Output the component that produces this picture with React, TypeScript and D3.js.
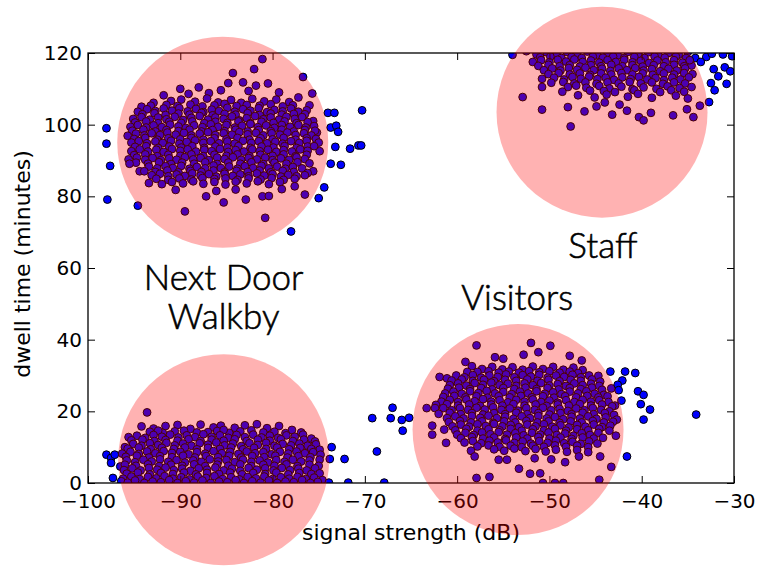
import { useLayoutEffect, useRef } from 'react'
import * as d3 from 'd3'

type Pt = [number, number]

// signal strength (dB), dwell time (minutes)
const walkbyTop: Pt[] = [
  [-81.1, 118.3], [-82.0, 115.5], [-84.3, 114.4], [-76.7, 113.3],
  [-84.8, 111.6], [-83.2, 111.8], [-80.5, 111.5], [-81.8, 110.9], [-88.0, 110.4], [-90.0, 110.0], [-85.6, 109.6],
  [-86.9, 108.8], [-82.6, 109.4], [-79.3, 109.0], [-75.7, 108.7], [-91.8, 108.2], [-89.1, 108.6],
  [-92.9, 106.1], [-91.0, 106.6], [-89.9, 107.0], [-88.4, 106.4], [-87.1, 107.3], [-85.9, 106.2], [-84.5, 106.9],
  [-83.4, 106.1], [-82.2, 107.2], [-80.9, 106.5], [-79.6, 107.0], [-78.2, 106.3], [-77.2, 107.6], [-94.2, 105.0], [-76.0, 105.4],
  [-93.2, 105.3], [-91.5, 105.5], [-90.3, 105.2], [-88.9, 105.6], [-87.6, 105.1], [-86.3, 105.4], [-85.2, 105.8],
  [-83.9, 105.2], [-82.8, 105.5], [-81.4, 105.3], [-80.2, 105.7], [-78.9, 105.1], [-77.8, 105.4],
  [-94.6, 103.6], [-93.6, 104.3], [-92.7, 103.8], [-91.8, 104.5], [-90.9, 103.9], [-90.1, 104.6], [-89.2, 103.7],
  [-88.3, 104.4], [-87.5, 103.5], [-86.6, 104.2], [-85.8, 103.8], [-84.9, 104.7], [-84.1, 103.6], [-83.2, 104.3],
  [-82.4, 103.9], [-81.5, 104.6], [-80.6, 103.5], [-79.8, 104.1], [-78.9, 103.7], [-78.0, 104.5], [-77.2, 103.6], [-76.3, 104.0],
  [-94.1, 102.9], [-92.8, 103.2], [-91.6, 102.7], [-90.2, 103.1], [-89.0, 102.8], [-87.7, 103.3], [-86.5, 102.6],
  [-85.2, 103.0], [-84.0, 102.8], [-82.7, 103.2], [-81.4, 102.7], [-80.2, 103.1], [-79.0, 102.8], [-77.7, 103.0], [-76.5, 102.9],
  [-95.1, 101.6], [-94.2, 102.1], [-93.3, 101.4], [-92.4, 102.0], [-91.5, 101.5], [-90.6, 102.2], [-89.7, 101.3],
  [-88.8, 101.9], [-87.9, 102.4], [-87.0, 101.4], [-86.2, 102.0], [-85.3, 101.6], [-84.4, 102.3], [-83.6, 101.2],
  [-82.8, 101.8], [-81.9, 102.4], [-81.0, 101.5], [-80.2, 102.0], [-79.3, 101.4], [-78.5, 102.2], [-77.6, 101.6],
  [-76.8, 102.1], [-75.6, 101.0],
  [-94.9, 100.6], [-93.7, 100.9], [-92.4, 100.4], [-91.2, 100.8], [-89.9, 100.5], [-88.7, 100.9], [-87.4, 100.4],
  [-86.2, 100.8], [-84.9, 100.5], [-83.7, 100.9], [-82.4, 100.4], [-81.2, 100.8], [-79.9, 100.5], [-78.7, 100.9],
  [-77.4, 100.4], [-76.2, 100.7],
  [-95.4, 99.4], [-94.6, 99.9], [-93.7, 99.2], [-92.9, 99.8], [-92.0, 99.3], [-91.1, 100.0], [-90.2, 99.5], [-89.4, 99.1],
  [-88.5, 99.8], [-87.6, 99.3], [-86.7, 100.1], [-85.9, 99.4], [-85.0, 99.9], [-84.1, 99.2], [-83.3, 99.7], [-82.4, 100.2],
  [-81.6, 99.3], [-80.7, 99.8], [-79.8, 99.1], [-79.0, 99.9], [-78.1, 99.4], [-77.2, 99.9], [-76.4, 99.2], [-75.2, 97.8], [-75.5, 99.6],
  [-95.2, 98.3], [-94.0, 98.6], [-92.7, 98.1], [-91.5, 98.5], [-90.2, 98.2], [-89.0, 98.6], [-87.7, 98.1], [-86.5, 98.5],
  [-85.2, 98.2], [-84.0, 98.6], [-82.7, 98.1], [-81.5, 98.5], [-80.2, 98.2], [-79.0, 98.6], [-77.7, 98.1], [-76.5, 98.5], [-75.4, 98.3],
  [-95.7, 96.9], [-94.8, 97.5], [-93.9, 97.0], [-93.1, 97.6], [-92.2, 97.1], [-91.4, 97.8], [-90.5, 97.2], [-89.6, 97.7],
  [-88.8, 97.0], [-87.9, 97.5], [-87.0, 97.9], [-86.2, 97.1], [-85.3, 97.6], [-84.4, 97.2], [-83.6, 97.9], [-82.7, 97.3],
  [-81.8, 97.7], [-81.0, 97.0], [-80.1, 97.6], [-79.2, 97.2], [-78.4, 97.8], [-77.5, 97.1], [-76.6, 97.6], [-75.8, 97.0],
  [-95.0, 96.0], [-93.8, 96.3], [-92.5, 95.8], [-91.3, 96.2], [-90.0, 95.9], [-88.8, 96.3], [-87.5, 95.8], [-86.3, 96.2],
  [-85.0, 95.9], [-83.8, 96.3], [-82.5, 95.8], [-81.3, 96.2], [-80.0, 95.9], [-78.8, 96.3], [-77.5, 95.8], [-76.3, 96.2], [-75.3, 96.0],
  [-95.3, 95.0], [-94.5, 95.4], [-93.6, 94.8], [-92.7, 95.3], [-91.9, 94.9], [-91.0, 95.5], [-90.1, 94.7], [-89.3, 95.2],
  [-88.4, 95.6], [-87.5, 94.9], [-86.7, 95.4], [-85.8, 94.8], [-84.9, 95.3], [-84.1, 94.7], [-83.2, 95.5], [-82.3, 94.9],
  [-81.5, 95.4], [-80.6, 94.8], [-79.7, 95.2], [-78.9, 94.7], [-78.0, 95.4], [-77.1, 94.9], [-76.3, 95.5], [-75.0, 95.0], [-74.9, 92.6],
  [-94.9, 93.8], [-93.7, 94.0], [-92.4, 93.5], [-91.2, 93.9], [-89.9, 93.6], [-88.7, 94.0], [-87.4, 93.5], [-86.2, 93.9],
  [-84.9, 93.6], [-83.7, 94.0], [-82.4, 93.5], [-81.2, 93.9], [-79.9, 93.6], [-78.7, 94.0], [-77.4, 93.5], [-76.2, 93.9], [-75.5, 94.0],
  [-95.3, 92.6], [-94.4, 93.1], [-93.5, 92.5], [-92.6, 93.0], [-91.8, 92.4], [-90.9, 93.2], [-90.0, 92.7], [-89.2, 93.1],
  [-88.3, 92.5], [-87.4, 93.0], [-86.6, 92.6], [-85.7, 93.2], [-84.8, 92.4], [-84.0, 92.9], [-83.1, 92.5], [-82.2, 93.1],
  [-81.4, 92.6], [-80.5, 93.0], [-79.6, 92.4], [-78.8, 92.9], [-77.9, 92.5], [-77.0, 93.1], [-76.2, 92.7],
  [-95.0, 91.5], [-93.8, 91.7], [-92.5, 91.2], [-91.3, 91.6], [-90.0, 91.3], [-88.8, 91.7], [-87.5, 91.2], [-86.3, 91.6],
  [-85.0, 91.3], [-83.8, 91.7], [-82.5, 91.2], [-81.3, 91.6], [-80.0, 91.3], [-78.8, 91.7], [-77.5, 91.2], [-76.3, 91.6],
  [-95.6, 90.3], [-94.7, 90.8], [-93.8, 90.2], [-93.0, 90.7], [-92.1, 90.1], [-91.2, 90.6], [-90.4, 90.2], [-89.5, 90.9],
  [-88.6, 90.3], [-87.8, 90.7], [-86.9, 90.1], [-86.0, 90.8], [-85.2, 90.4], [-84.3, 90.9], [-83.4, 90.2], [-82.6, 90.7],
  [-81.7, 90.3], [-80.8, 90.8], [-80.0, 90.1], [-79.1, 90.6], [-78.2, 90.2], [-77.4, 90.9], [-76.5, 90.4],
  [-94.8, 89.4], [-93.5, 89.1], [-92.3, 89.5], [-91.0, 89.0], [-89.8, 89.4], [-88.5, 89.1], [-87.3, 89.5], [-86.0, 89.0],
  [-84.8, 89.4], [-83.5, 89.1], [-82.3, 89.5], [-81.0, 89.0], [-79.8, 89.4], [-78.5, 89.1], [-77.3, 89.5], [-76.0, 89.2],
  [-95.5, 89.1], [-94.4, 87.0], [-93.4, 88.3], [-92.5, 87.8], [-91.6, 88.4], [-90.8, 87.9], [-89.9, 88.5], [-89.0, 87.7],
  [-88.2, 88.2], [-87.3, 87.8], [-86.4, 88.6], [-85.6, 87.9], [-84.7, 88.3], [-83.8, 87.7], [-83.0, 88.4], [-82.1, 87.9],
  [-81.2, 88.5], [-80.4, 87.8], [-79.5, 88.3], [-78.6, 87.7], [-77.8, 88.2], [-76.8, 87.8], [-75.6, 87.0],
  [-93.9, 87.0], [-92.7, 86.8], [-91.4, 87.2], [-90.2, 86.7], [-88.9, 87.1], [-87.7, 86.8], [-86.4, 87.2], [-85.2, 86.7],
  [-83.9, 87.1], [-82.7, 86.8], [-81.4, 87.2], [-80.2, 86.7], [-78.9, 87.1], [-77.7, 86.8], [-76.2, 86.5],
  [-93.1, 85.9], [-92.2, 86.3], [-91.3, 85.6], [-90.4, 86.1], [-89.5, 85.7], [-88.7, 86.4], [-87.8, 85.8], [-86.9, 86.2],
  [-86.1, 85.5], [-85.2, 86.3], [-84.3, 85.7], [-83.5, 86.1], [-82.6, 85.6], [-81.7, 86.4], [-80.9, 85.8], [-80.0, 86.2],
  [-79.1, 85.5], [-78.3, 86.0], [-77.4, 85.6], [-76.5, 85.9],
  [-92.6, 84.9], [-91.3, 84.6], [-90.1, 85.0], [-88.8, 84.7], [-87.6, 85.1], [-86.3, 84.8], [-85.1, 85.0], [-83.8, 84.6],
  [-82.6, 85.0], [-81.3, 84.7], [-80.1, 85.1], [-78.8, 84.6], [-77.6, 84.9],
  [-93.4, 83.7], [-92.0, 83.4], [-90.9, 84.0], [-89.7, 83.6], [-88.6, 84.2], [-87.5, 83.5], [-86.3, 84.0], [-85.1, 83.3],
  [-84.0, 84.1], [-82.8, 83.6], [-81.6, 84.2], [-80.4, 83.4], [-79.2, 84.0], [-77.6, 82.8],
  [-90.5, 81.8], [-87.2, 80.0], [-85.3, 78.3], [-82.9, 79.1], [-81.1, 80.0], [-80.4, 80.1], [-76.5, 80.5], [-89.5, 75.8],
  [-80.8, 74.0], [-86.1, 81.5], [-84.0, 81.9], [-79.0, 82.0]
]

const walkbyBottom: Pt[] = [
  [-93.6, 19.7],
  [-94.2, 15.8], [-92.9, 15.2], [-91.6, 15.9], [-90.3, 16.2], [-88.9, 15.1], [-87.8, 16.3], [-86.4, 15.5], [-85.6, 16.0],
  [-84.1, 15.4], [-83.0, 16.1], [-81.7, 16.4], [-80.6, 15.3], [-79.3, 15.9], [-77.9, 14.8], [-89.6, 14.6], [-82.3, 14.7], [-87.0, 14.2],
  [-93.3, 14.3], [-91.9, 14.0], [-90.6, 14.4], [-88.2, 14.1], [-86.0, 14.5], [-84.7, 14.0], [-83.5, 14.4], [-81.0, 14.1],
  [-79.8, 14.3], [-78.6, 13.9], [-76.9, 14.1], [-92.4, 14.6], [-85.3, 14.8],
  [-95.6, 12.8], [-94.7, 13.2], [-93.8, 12.6], [-92.9, 13.4], [-92.0, 12.9], [-91.1, 13.5], [-90.2, 12.7], [-89.3, 13.3],
  [-88.4, 12.8], [-87.5, 13.6], [-86.6, 12.9], [-85.7, 13.3], [-84.8, 12.6], [-83.9, 13.4], [-83.0, 12.8], [-82.1, 13.5],
  [-81.2, 12.7], [-80.3, 13.2], [-79.4, 12.6], [-78.5, 13.3], [-77.6, 12.9], [-76.7, 13.5], [-75.8, 12.4],
  [-95.3, 11.9], [-94.1, 12.1], [-92.8, 11.7], [-91.6, 12.0], [-90.3, 11.8], [-89.1, 12.2], [-87.8, 11.7], [-86.6, 12.1],
  [-85.3, 11.8], [-84.1, 12.2], [-82.8, 11.7], [-81.6, 12.1], [-80.3, 11.8], [-79.1, 12.2], [-77.8, 11.7], [-76.6, 12.1], [-75.4, 11.6],
  [-96.0, 10.0], [-95.1, 10.9], [-94.2, 10.4], [-93.3, 11.1], [-92.4, 10.6], [-91.5, 11.2], [-90.6, 10.5], [-89.7, 11.0],
  [-88.8, 10.4], [-87.9, 11.1], [-87.0, 10.7], [-86.1, 11.3], [-85.2, 10.5], [-84.3, 11.0], [-83.4, 10.3], [-82.5, 11.1],
  [-81.6, 10.6], [-80.7, 11.2], [-79.8, 10.4], [-78.9, 10.9], [-78.0, 10.5], [-77.1, 11.0], [-76.2, 10.4], [-75.3, 10.8],
  [-95.7, 9.6], [-94.5, 9.9], [-93.2, 9.4], [-92.0, 9.8], [-90.7, 9.5], [-89.5, 9.9], [-88.2, 9.4], [-87.0, 9.8],
  [-85.7, 9.5], [-84.5, 9.9], [-83.2, 9.4], [-82.0, 9.8], [-80.7, 9.5], [-79.5, 9.9], [-78.2, 9.4], [-77.0, 9.8], [-75.8, 9.5], [-74.9, 9.3],
  [-96.3, 8.2], [-95.4, 8.7], [-94.5, 8.1], [-93.6, 8.8], [-92.7, 8.3], [-91.8, 8.9], [-90.9, 8.4], [-90.0, 8.7],
  [-89.1, 8.0], [-88.2, 8.6], [-87.3, 8.2], [-86.4, 8.9], [-85.5, 8.3], [-84.6, 8.7], [-83.7, 8.1], [-82.8, 8.8],
  [-81.9, 8.3], [-81.0, 8.6], [-80.1, 8.0], [-79.2, 8.7], [-78.3, 8.2], [-77.4, 8.8], [-76.5, 8.3], [-75.6, 8.6], [-74.8, 7.9],
  [-95.9, 7.3], [-94.7, 7.6], [-93.4, 7.1], [-92.2, 7.5], [-90.9, 7.2], [-89.7, 7.6], [-88.4, 7.1], [-87.2, 7.5],
  [-85.9, 7.2], [-84.7, 7.6], [-83.4, 7.1], [-82.2, 7.5], [-80.9, 7.2], [-79.7, 7.6], [-78.4, 7.1], [-77.2, 7.5], [-75.9, 7.2],
  [-96.5, 4.6], [-95.8, 6.3], [-94.9, 5.8], [-94.0, 6.5], [-93.1, 6.0], [-92.2, 6.6], [-91.3, 5.9], [-90.4, 6.4],
  [-89.5, 5.7], [-88.6, 6.3], [-87.7, 5.9], [-86.8, 6.6], [-85.9, 6.0], [-85.0, 6.4], [-84.1, 5.8], [-83.2, 6.5],
  [-82.3, 5.9], [-81.4, 6.3], [-80.5, 5.7], [-79.6, 6.4], [-78.7, 5.9], [-77.8, 6.5], [-76.9, 6.0], [-76.0, 6.3], [-74.9, 6.5],
  [-96.0, 5.1], [-94.8, 4.8], [-93.5, 5.2], [-92.3, 4.7], [-91.0, 5.1], [-89.8, 4.8], [-88.5, 5.2], [-87.3, 4.7],
  [-86.0, 5.1], [-84.8, 4.8], [-83.5, 5.2], [-82.3, 4.7], [-81.0, 5.1], [-79.8, 4.8], [-78.5, 5.2], [-77.3, 4.7], [-76.0, 5.1], [-75.0, 4.8],
  [-96.1, 3.6], [-95.2, 4.1], [-94.3, 3.5], [-93.4, 4.2], [-92.5, 3.7], [-91.6, 4.3], [-90.7, 3.6], [-89.8, 4.0],
  [-88.9, 3.4], [-88.0, 4.1], [-87.1, 3.7], [-86.2, 4.3], [-85.3, 3.5], [-84.4, 4.0], [-83.5, 3.4], [-82.6, 4.2],
  [-81.7, 3.7], [-80.8, 4.1], [-79.9, 3.5], [-79.0, 4.2], [-78.1, 3.6], [-77.2, 4.0], [-76.3, 3.5], [-75.4, 4.1],
  [-95.8, 2.6], [-94.6, 2.9], [-93.3, 2.4], [-92.1, 2.8], [-90.8, 2.5], [-89.6, 2.9], [-88.3, 2.4], [-87.1, 2.8],
  [-85.8, 2.5], [-84.6, 2.9], [-83.3, 2.4], [-82.1, 2.8], [-80.8, 2.5], [-79.6, 2.9], [-78.3, 2.4], [-77.1, 2.8], [-75.8, 2.5], [-74.9, 2.7],
  [-96.2, 1.2], [-95.3, 1.8], [-94.4, 1.1], [-93.5, 1.7], [-92.6, 1.3], [-91.7, 1.9], [-90.8, 1.2], [-89.9, 1.6],
  [-89.0, 1.0], [-88.1, 1.8], [-87.2, 1.4], [-86.3, 1.9], [-85.4, 1.1], [-84.5, 1.6], [-83.6, 1.0], [-82.7, 1.7],
  [-81.8, 1.3], [-80.9, 1.8], [-80.0, 1.1], [-79.1, 1.6], [-78.2, 1.2], [-77.3, 1.7], [-76.4, 1.1], [-75.5, 1.5], [-74.6, 0.8],
  [-96.4, 0.5], [-94.9, 0.7], [-93.0, 0.4], [-91.2, 0.8], [-89.4, 0.5], [-87.6, 0.7], [-85.8, 0.4], [-84.0, 0.8],
  [-82.2, 0.5], [-80.4, 0.7], [-78.6, 0.4], [-76.8, 0.8], [-75.1, 0.3],
  [-95.7, 0.1], [-93.9, 0.0], [-92.1, 0.2], [-90.3, 0.0], [-88.5, 0.1], [-86.7, 0.0], [-84.9, 0.2], [-83.1, 0.0],
  [-81.3, 0.1], [-79.5, 0.0], [-77.7, 0.2], [-75.9, 0.0]
]

const visitors: Pt[] = [
  [-52.0, 39.1], [-57.9, 38.4], [-49.9, 38.3], [-51.2, 36.5], [-52.8, 35.8], [-55.9, 35.1], [-55.0, 34.7], [-47.8, 35.5],
  [-59.1, 33.8], [-46.5, 34.2],
  [-58.4, 32.6], [-57.3, 31.8], [-56.2, 32.4], [-55.1, 31.7], [-54.0, 32.3], [-52.9, 31.6], [-51.8, 32.5], [-50.7, 31.8],
  [-49.6, 32.4], [-48.5, 31.6], [-47.4, 32.2], [-46.4, 31.5], [-58.9, 31.0],
  [-57.8, 31.0], [-56.6, 31.2], [-55.5, 30.8], [-54.4, 31.1], [-53.3, 30.8], [-52.2, 31.2], [-51.1, 30.9], [-50.0, 31.2],
  [-48.9, 30.8], [-47.8, 31.1], [-46.9, 30.7],
  [-61.9, 29.6], [-61.1, 29.2], [-60.1, 30.0], [-59.2, 29.5], [-58.3, 30.1], [-57.4, 29.4], [-56.5, 30.0], [-55.6, 29.6],
  [-54.7, 30.3], [-53.8, 29.5], [-52.9, 30.1], [-52.0, 29.7], [-51.1, 30.2], [-50.2, 29.4], [-49.3, 30.0], [-48.4, 29.6],
  [-47.5, 30.2], [-46.6, 29.5], [-45.7, 30.0], [-44.7, 29.9],
  [-60.6, 28.6], [-59.5, 28.9], [-58.3, 28.5], [-57.1, 28.8], [-56.0, 28.4], [-54.8, 28.8], [-53.6, 28.5], [-52.4, 28.9],
  [-51.3, 28.5], [-50.1, 28.8], [-48.9, 28.4], [-47.7, 28.8], [-46.6, 28.5], [-45.4, 28.9], [-44.5, 28.3],
  [-60.8, 27.3], [-59.9, 27.8], [-59.0, 27.2], [-58.1, 27.9], [-57.2, 27.4], [-56.3, 28.0], [-55.4, 27.3], [-54.5, 27.7],
  [-53.6, 27.1], [-52.7, 27.8], [-51.8, 27.3], [-50.9, 27.9], [-50.0, 27.2], [-49.1, 27.6], [-48.2, 27.1], [-47.3, 27.8],
  [-46.4, 27.3], [-45.5, 27.7], [-44.6, 27.1],
  [-61.0, 26.3], [-59.8, 26.6], [-58.6, 26.2], [-57.4, 26.5], [-56.2, 26.1], [-55.0, 26.5], [-53.8, 26.2], [-52.6, 26.6],
  [-51.4, 26.2], [-50.2, 26.5], [-49.0, 26.1], [-47.8, 26.5], [-46.6, 26.2], [-45.4, 26.6], [-44.3, 26.0],
  [-61.3, 25.0], [-60.4, 25.5], [-59.5, 24.9], [-58.6, 25.6], [-57.7, 25.1], [-56.8, 25.7], [-55.9, 25.0], [-55.0, 25.4],
  [-54.1, 24.8], [-53.2, 25.5], [-52.3, 25.0], [-51.4, 25.6], [-50.5, 24.9], [-49.6, 25.3], [-48.7, 24.8], [-47.8, 25.5],
  [-46.9, 25.0], [-46.0, 25.6], [-45.1, 24.9], [-44.1, 24.6], [-43.3, 26.4],
  [-61.5, 24.0], [-60.3, 24.3], [-59.1, 23.9], [-57.9, 24.2], [-56.7, 23.8], [-55.5, 24.2], [-54.3, 23.9], [-53.1, 24.3],
  [-51.9, 23.9], [-50.7, 24.2], [-49.5, 23.8], [-48.3, 24.2], [-47.1, 23.9], [-45.9, 24.3], [-44.7, 23.9], [-43.7, 24.2],
  [-61.7, 22.7], [-60.8, 23.2], [-59.9, 22.6], [-59.0, 23.3], [-58.1, 22.8], [-57.2, 23.4], [-56.3, 22.7], [-55.4, 23.1],
  [-54.5, 22.5], [-53.6, 23.2], [-52.7, 22.7], [-51.8, 23.3], [-50.9, 22.6], [-50.0, 23.0], [-49.1, 22.4], [-48.2, 23.1],
  [-47.3, 22.6], [-46.4, 23.2], [-45.5, 22.7], [-44.6, 23.1], [-43.6, 22.6], [-42.9, 21.6],
  [-62.3, 21.8], [-61.1, 22.0], [-59.9, 21.6], [-58.7, 21.9], [-57.5, 21.5], [-56.3, 21.9], [-55.1, 21.6], [-53.9, 22.0],
  [-52.7, 21.6], [-51.5, 21.9], [-50.3, 21.5], [-49.1, 21.9], [-47.9, 21.6], [-46.7, 22.0], [-45.5, 21.6], [-44.3, 21.9], [-43.2, 21.4],
  [-63.3, 20.9], [-62.4, 20.9], [-61.5, 20.9], [-60.6, 20.3], [-59.7, 20.9], [-58.8, 20.4], [-57.9, 21.0], [-57.0, 20.5],
  [-56.1, 21.1], [-55.2, 20.4], [-54.3, 20.8], [-53.4, 20.2], [-52.5, 20.9], [-51.6, 20.4], [-50.7, 21.0], [-49.8, 20.3],
  [-48.9, 20.7], [-48.0, 20.1], [-47.1, 20.8], [-46.2, 20.3], [-45.3, 20.9], [-44.4, 20.4], [-43.5, 20.0],
  [-62.0, 19.3], [-60.8, 19.6], [-59.6, 19.2], [-58.4, 19.5], [-57.2, 19.1], [-56.0, 19.5], [-54.8, 19.2], [-53.6, 19.6],
  [-52.4, 19.2], [-51.2, 19.5], [-50.0, 19.1], [-48.8, 19.5], [-47.6, 19.2], [-46.4, 19.6], [-45.2, 19.2], [-44.0, 19.5], [-43.0, 19.0],
  [-61.1, 18.1], [-60.2, 18.6], [-59.3, 18.0], [-58.4, 18.7], [-57.5, 18.2], [-56.6, 18.8], [-55.7, 18.1], [-54.8, 18.5],
  [-53.9, 17.9], [-53.0, 18.6], [-52.1, 18.1], [-51.2, 18.7], [-50.3, 18.0], [-49.4, 18.4], [-48.5, 17.8], [-47.6, 18.5],
  [-46.7, 18.0], [-45.8, 18.6], [-44.9, 17.9], [-43.9, 18.3], [-42.7, 17.7],
  [-60.9, 17.0], [-59.7, 17.3], [-58.5, 16.9], [-57.3, 17.2], [-56.1, 16.8], [-54.9, 17.2], [-53.7, 16.9], [-52.5, 17.3],
  [-51.3, 16.9], [-50.1, 17.2], [-48.9, 16.8], [-47.7, 17.2], [-46.5, 16.9], [-45.3, 17.3], [-44.1, 16.9], [-43.1, 17.1],
  [-62.7, 16.0], [-60.5, 15.8], [-59.6, 16.3], [-58.7, 15.7], [-57.8, 16.4], [-56.9, 15.9], [-56.0, 16.5], [-55.1, 15.8],
  [-54.2, 16.2], [-53.3, 15.6], [-52.4, 16.3], [-51.5, 15.8], [-50.6, 16.4], [-49.7, 15.7], [-48.8, 16.1], [-47.9, 15.5],
  [-47.0, 16.2], [-46.1, 15.7], [-45.2, 16.3], [-44.3, 15.6], [-43.4, 16.0],
  [-61.4, 14.9], [-60.2, 14.7], [-59.0, 15.1], [-57.8, 14.6], [-56.6, 15.0], [-55.4, 14.7], [-54.2, 15.1], [-53.0, 14.6],
  [-51.8, 15.0], [-50.6, 14.7], [-49.4, 15.1], [-48.2, 14.6], [-47.0, 15.0], [-45.8, 14.7], [-44.6, 15.1], [-43.5, 14.6],
  [-62.7, 13.5], [-60.0, 13.5], [-59.1, 14.0], [-58.2, 13.4], [-57.3, 14.1], [-56.4, 13.6], [-55.5, 14.2], [-54.6, 13.5],
  [-53.7, 13.9], [-52.8, 13.3], [-51.9, 14.0], [-51.0, 13.5], [-50.1, 14.1], [-49.2, 13.4], [-48.3, 13.8], [-47.4, 13.2],
  [-46.5, 13.9], [-45.6, 13.4], [-44.7, 14.0], [-42.8, 13.2],
  [-59.6, 12.5], [-58.4, 12.8], [-57.2, 12.4], [-56.0, 12.7], [-54.8, 12.3], [-53.6, 12.7], [-52.4, 12.4], [-51.2, 12.8],
  [-50.0, 12.4], [-48.8, 12.7], [-47.6, 12.3], [-46.4, 12.7], [-45.2, 12.4], [-44.2, 12.6],
  [-61.2, 11.2], [-59.2, 11.3], [-58.3, 11.7], [-57.4, 11.1], [-56.5, 11.8], [-55.6, 11.3], [-54.7, 11.9], [-53.8, 11.2],
  [-52.9, 11.6], [-52.0, 11.0], [-51.1, 11.7], [-50.2, 11.2], [-49.3, 11.8], [-48.4, 11.1], [-47.5, 11.5], [-46.6, 10.9],
  [-45.7, 11.6], [-44.8, 11.0],
  [-57.8, 10.2], [-56.6, 10.5], [-55.4, 10.1], [-54.2, 10.4], [-53.0, 10.0], [-51.8, 10.4], [-50.6, 10.1], [-49.4, 10.5],
  [-48.2, 10.1], [-47.0, 10.4], [-45.8, 10.0],
  [-58.5, 9.0], [-56.0, 9.4], [-54.9, 9.0], [-53.8, 9.6], [-52.6, 8.9], [-51.5, 9.5], [-50.4, 8.8], [-49.3, 9.3],
  [-48.1, 8.7], [-47.0, 9.2], [-45.8, 8.6],
  [-58.1, 7.4], [-57.9, 1.4], [-56.5, 1.7], [-55.5, 6.5], [-54.6, 6.5], [-53.3, 4.0], [-52.1, 2.6], [-51.0, 2.7],
  [-50.7, 0.0], [-49.4, 0.0], [-48.3, 5.8], [-48.5, 0.0], [-46.8, 7.4], [-44.5, 7.4], [-43.3, 4.5], [-44.6, 0.9],
  [-51.6, 6.9], [-49.8, 6.6]
]

const staff: Pt[] = [
  [-52.5, 120.5], [-51.4, 119.6], [-50.3, 120.2], [-49.2, 119.4], [-48.1, 120.3], [-47.0, 119.7], [-45.9, 120.4],
  [-44.8, 119.5], [-43.7, 120.1], [-42.6, 119.3], [-41.5, 120.3], [-40.4, 119.6], [-39.3, 120.2], [-38.2, 119.4],
  [-37.1, 120.0], [-36.0, 119.5], [-35.0, 120.3],
  [-51.0, 118.8], [-49.9, 119.0], [-48.7, 118.6], [-47.6, 118.9], [-46.5, 118.6], [-45.3, 119.0], [-44.2, 118.7],
  [-43.1, 119.0], [-41.9, 118.6], [-40.8, 118.9], [-39.7, 118.6], [-38.6, 119.0], [-37.5, 118.7], [-36.3, 119.0], [-35.2, 118.6],
  [-51.8, 117.5], [-50.9, 118.0], [-50.0, 117.4], [-49.1, 118.1], [-48.2, 117.6], [-47.3, 118.2], [-46.4, 117.5],
  [-45.5, 117.9], [-44.6, 117.3], [-43.7, 118.0], [-42.8, 117.5], [-41.9, 118.1], [-41.0, 117.4], [-40.1, 117.8],
  [-39.2, 117.2], [-38.3, 117.9], [-37.4, 117.4], [-36.5, 118.0], [-35.6, 117.3],
  [-51.2, 116.4], [-50.1, 116.7], [-48.9, 116.3], [-47.8, 116.6], [-46.7, 116.2], [-45.5, 116.6], [-44.4, 116.3],
  [-43.3, 116.7], [-42.1, 116.3], [-41.0, 116.6], [-39.9, 116.2], [-38.7, 116.6], [-37.6, 116.3], [-36.5, 116.7],
  [-35.4, 116.3], [-34.6, 116.5],
  [-50.6, 115.2], [-49.7, 115.7], [-48.8, 115.1], [-47.9, 115.8], [-47.0, 115.3], [-46.1, 115.9], [-45.2, 115.2],
  [-44.3, 115.6], [-43.4, 115.0], [-42.5, 115.7], [-41.6, 115.2], [-40.7, 115.8], [-39.8, 115.1], [-38.9, 115.5],
  [-38.0, 114.9], [-37.1, 115.6], [-36.2, 115.1], [-35.3, 115.7],
  [-50.1, 114.1], [-49.0, 114.4], [-47.8, 114.0], [-46.7, 114.3], [-45.6, 113.9], [-44.4, 114.3], [-43.3, 114.0],
  [-42.2, 114.4], [-41.0, 114.0], [-39.9, 114.3], [-38.8, 113.9], [-37.6, 114.3], [-36.5, 114.0], [-35.4, 114.4], [-34.5, 114.1],
  [-50.8, 112.8], [-49.5, 113.1], [-48.4, 112.6], [-47.5, 113.3], [-46.6, 112.8], [-45.7, 113.4], [-44.8, 112.7],
  [-43.9, 113.1], [-43.0, 112.5], [-42.1, 113.2], [-41.2, 112.7], [-40.3, 113.3], [-39.4, 112.6], [-38.5, 113.0],
  [-37.6, 112.4], [-36.7, 113.1], [-35.8, 112.6], [-34.9, 113.2],
  [-49.8, 111.7], [-48.5, 111.9], [-47.3, 111.5], [-46.1, 111.8], [-44.9, 111.4], [-43.7, 111.8], [-42.5, 111.5],
  [-41.3, 111.9], [-40.1, 111.5], [-38.9, 111.8], [-37.7, 111.4], [-36.5, 111.8], [-35.3, 111.5],
  [-50.8, 110.5], [-48.0, 110.5], [-47.1, 110.9], [-46.0, 110.3], [-44.6, 110.8], [-43.5, 110.1], [-42.2, 110.6],
  [-41.0, 109.9], [-39.8, 110.4], [-38.4, 110.0], [-37.2, 110.7], [-35.9, 110.2], [-34.6, 110.5],
  [-48.6, 109.2], [-45.6, 109.5], [-42.9, 109.1], [-40.8, 109.6], [-38.0, 109.1], [-36.8, 109.6], [-35.4, 109.2], [-44.1, 109.4],
  [-46.9, 108.2], [-45.1, 107.6], [-43.8, 108.4], [-41.5, 107.8], [-40.4, 108.6], [-38.9, 107.5], [-36.3, 108.1], [-35.0, 107.3],
  [-52.9, 107.7], [-50.8, 104.2], [-48.0, 104.9], [-47.7, 99.5], [-46.2, 103.7], [-44.9, 105.1], [-43.2, 102.8],
  [-41.6, 103.9], [-40.3, 102.1], [-39.8, 101.2], [-39.0, 103.3], [-36.6, 102.6], [-34.4, 102.1], [-35.1, 104.3],
  [-33.7, 105.3], [-42.4, 105.6], [-44.0, 106.2]
]

const strays: Pt[] = [
  [-98.0, 99.0], [-98.0, 94.7], [-97.6, 88.5], [-97.9, 79.1], [-94.6, 77.4], [-78.0, 70.2],
  [-74.0, 103.3], [-73.3, 103.3], [-70.3, 104.0], [-73.7, 99.2], [-73.1, 99.7], [-72.9, 98.0], [-73.2, 93.8],
  [-71.6, 93.3], [-70.7, 94.2], [-70.4, 94.2], [-73.7, 89.1], [-72.6, 88.8], [-74.4, 82.5], [-75.0, 79.5],
  [-98.0, 7.9], [-97.5, 7.0], [-97.1, 7.9], [-97.5, 5.6], [-97.3, 1.4],
  [-73.6, 10.0], [-72.2, 6.7], [-73.8, 6.7], [-73.9, 0.1], [-71.8, 0.1], [-69.2, 18.1], [-68.7, 8.8], [-67.9, 0.1],
  [-67.0, 21.0], [-67.2, 18.1], [-66.0, 17.6], [-65.2, 18.2], [-65.9, 14.6],
  [-43.4, 31.1], [-41.8, 31.1], [-40.7, 30.7], [-42.1, 28.6], [-42.6, 27.4], [-42.5, 25.9], [-42.2, 23.0], [-40.4, 25.6],
  [-39.8, 24.6], [-40.1, 22.0], [-39.1, 20.5], [-39.8, 17.7], [-34.1, 19.1], [-41.6, 7.4],
  [-54.0, 119.5], [-34.2, 118.6], [-33.0, 118.9], [-33.6, 117.5], [-32.2, 115.5], [-31.0, 116.0], [-30.4, 114.9],
  [-31.7, 113.5], [-32.5, 111.6], [-32.1, 109.6], [-30.8, 111.4], [-32.7, 106.3], [-34.8, 118.0], [-32.4, 119.8],
  [-31.2, 119.6], [-30.2, 119.1]
]

// highlighted zones (centre in data units)
const zones: Pt[] = [[-85.4, 95.1], [-85.3, 6.5], [-53.4, 14.9], [-44.3, 103.5]]

const zoneLabels = [
  { text: 'Next Door', x: -85.3, y: 53.9 },
  { text: 'Walkby', x: -85.3, y: 42.9 },
  { text: 'Visitors', x: -53.5, y: 48.4 },
  { text: 'Staff', x: -44.2, y: 62.9 }
]

const xTicks = [-100, -90, -80, -70, -60, -50, -40, -30]
const yTicks = [0, 20, 40, 60, 80, 100, 120]

const W = 761
const H = 566
const margin = { top: 53, right: 27, bottom: 83, left: 88 }
const zoneRadius = 105.5
const tickFont = 'DejaVu Sans, sans-serif'

const useD3 = (renderChartFn, dependencies) => {
  const ref = useRef(null)
  useLayoutEffect(() => {
    renderChartFn(d3.select(ref.current))
    return () => {}
  }, dependencies)
  return ref
}

const Chart = () => {
  const ref = useD3((svg) => {
    svg.selectAll('*').remove()
    const x = d3.scaleLinear().domain([-100, -30]).range([margin.left, W - margin.right])
    const y = d3.scaleLinear().domain([0, 120]).range([H - margin.bottom, margin.top])
    const fmt = d3.format('d')

    svg.append('defs').append('clipPath').attr('id', 'plot-clip')
      .append('rect')
      .attr('x', margin.left).attr('y', margin.top)
      .attr('width', W - margin.left - margin.right)
      .attr('height', H - margin.top - margin.bottom)

    const all = [...walkbyTop, ...walkbyBottom, ...visitors, ...staff, ...strays]
    svg.append('g')
      .attr('clip-path', 'url(#plot-clip)')
      .selectAll('circle')
      .data(all)
      .enter()
      .append('circle')
      .attr('cx', (d) => x(d[0]))
      .attr('cy', (d) => y(d[1]))
      .attr('r', 3.9)
      .attr('fill', '#0000ff')
      .attr('stroke', '#000')
      .attr('stroke-width', 1)

    // axes: ticks point inward on all four sides
    const axes = [
      { ax: d3.axisBottom(x).tickValues(xTicks).tickFormat(fmt), t: `translate(0,${y(0)})` },
      { ax: d3.axisTop(x).tickValues(xTicks).tickFormat(() => ''), t: `translate(0,${y(120)})` },
      { ax: d3.axisLeft(y).tickValues(yTicks).tickFormat(fmt), t: `translate(${x(-100)},0)` },
      { ax: d3.axisRight(y).tickValues(yTicks).tickFormat(() => ''), t: `translate(${x(-30)},0)` }
    ]
    axes.forEach(({ ax, t }, i) => {
      const g = svg.append('g')
        .attr('transform', t)
        .call(ax.tickSizeInner(-7).tickSizeOuter(0).tickPadding(i === 0 ? 11 : 6))
      g.select('.domain').remove()
      g.selectAll('line').attr('stroke', '#000').attr('stroke-width', 1)
      g.selectAll('text')
        .attr('font-family', tickFont)
        .attr('font-size', 20)
        .attr('fill', '#000')
    })

    svg.append('rect')
      .attr('x', x(-100)).attr('y', y(120))
      .attr('width', x(-30) - x(-100)).attr('height', y(0) - y(120))
      .attr('fill', 'none').attr('stroke', '#000').attr('stroke-width', 1.3)

    svg.append('text')
      .attr('x', (x(-100) + x(-30)) / 2).attr('y', 540)
      .attr('text-anchor', 'middle')
      .attr('font-family', tickFont).attr('font-size', 22)
      .text('signal strength (dB)')

    svg.append('text')
      .attr('transform', `translate(30,${(y(0) + y(120)) / 2 - 4}) rotate(-90)`)
      .attr('text-anchor', 'middle')
      .attr('font-family', tickFont).attr('font-size', 22)
      .text('dwell time (minutes)')

    svg.append('g')
      .selectAll('text')
      .data(zoneLabels)
      .enter()
      .append('text')
      .attr('x', (d) => x(d.x))
      .attr('y', (d) => y(d.y))
      .attr('text-anchor', 'middle')
      .attr('font-family', 'Lato, sans-serif')
      .attr('font-weight', 300)
      .attr('font-size', 35)
      .attr('fill', '#000')
      .attr('stroke', '#000')
      .attr('stroke-width', 0.6)
      .text((d) => d.text)

    svg.append('g')
      .selectAll('circle')
      .data(zones)
      .enter()
      .append('circle')
      .attr('cx', (d) => x(d[0]))
      .attr('cy', (d) => y(d[1]))
      .attr('r', zoneRadius)
      .attr('fill', '#ff0000')
      .attr('fill-opacity', 0.3)
  }, [])

  return (
    <svg
      ref={ref}
      width={W}
      height={H}
      style={{ position: 'absolute', left: 0, top: 0, background: '#fff' }}
    />
  )
}

export default function App() {
  return <Chart />
}
